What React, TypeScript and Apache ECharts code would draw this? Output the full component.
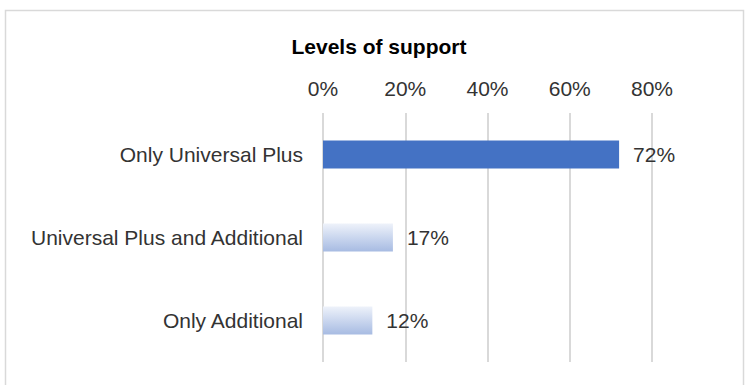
import React, { useEffect, useRef } from "react";
import * as echarts from "echarts";

const categories = ["Only Universal Plus", "Universal Plus and Additional", "Only Additional"];
const values = [72, 17, 12];
const tickValues = [0, 20, 40, 60, 80];

export default function App() {
  const ref = useRef<HTMLDivElement>(null);
  useEffect(() => {
    if (!ref.current) return;
    const chart = echarts.init(ref.current, null, { renderer: "svg" });
    const gradient = new echarts.graphic.LinearGradient(0, 0, 0, 1, [
      { offset: 0, color: "#eef2fa" },
      { offset: 0.6, color: "#c3d1ec" },
      { offset: 1, color: "#a7bbe2" },
    ]);
    const font = "Liberation Sans, Arial, sans-serif";
    chart.setOption({
      animation: false,
      backgroundColor: "#ffffff",
      textStyle: { fontFamily: font },
      title: {
        text: "Levels of support",
        left: 374,
        top: 31,
        textAlign: "center",
        textStyle: { fontSize: 21, fontWeight: "bold", color: "#000000", fontFamily: font },
      },
      graphic: [
        {
          type: "rect",
          shape: { x: 5.5, y: 10.5, width: 738, height: 400 },
          style: { fill: "none", stroke: "#d9d9d9", lineWidth: 1.5 },
          silent: true,
        },
      ],
      grid: { left: 323, right: 97, top: 113, bottom: 23, containLabel: false },
      xAxis: {
        type: "value",
        position: "top",
        min: tickValues[0],
        max: tickValues[tickValues.length - 1],
        interval: 20,
        axisLine: { show: false },
        axisTick: { show: false },
        splitLine: { show: true, lineStyle: { color: "#d9d9d9", width: 2 } },
        axisLabel: {
          formatter: (v: number) => v + "%",
          fontSize: 21,
          color: "#333333",
          margin: 14,
        },
      },
      yAxis: {
        type: "category",
        inverse: true,
        data: categories,
        axisLine: { show: false },
        axisTick: { show: false },
        axisLabel: { fontSize: 21, color: "#333333", margin: 20 },
      },
      series: [
        {
          type: "bar",
          barWidth: 28,
          data: values.map((v, i) => ({
            value: v,
            itemStyle: i === 0 ? { color: "#4472c4" } : { color: gradient },
          })),
          label: {
            show: true,
            position: "right",
            distance: 14,
            formatter: (p: any) => p.value + "%",
            fontSize: 21,
            color: "#333333",
          },
        },
      ],
    });
    return () => chart.dispose();
  }, []);
  return (
    <div
      ref={ref}
      style={{ position: "fixed", left: 0, top: 0, width: 749, height: 385 }}
    />
  );
}
